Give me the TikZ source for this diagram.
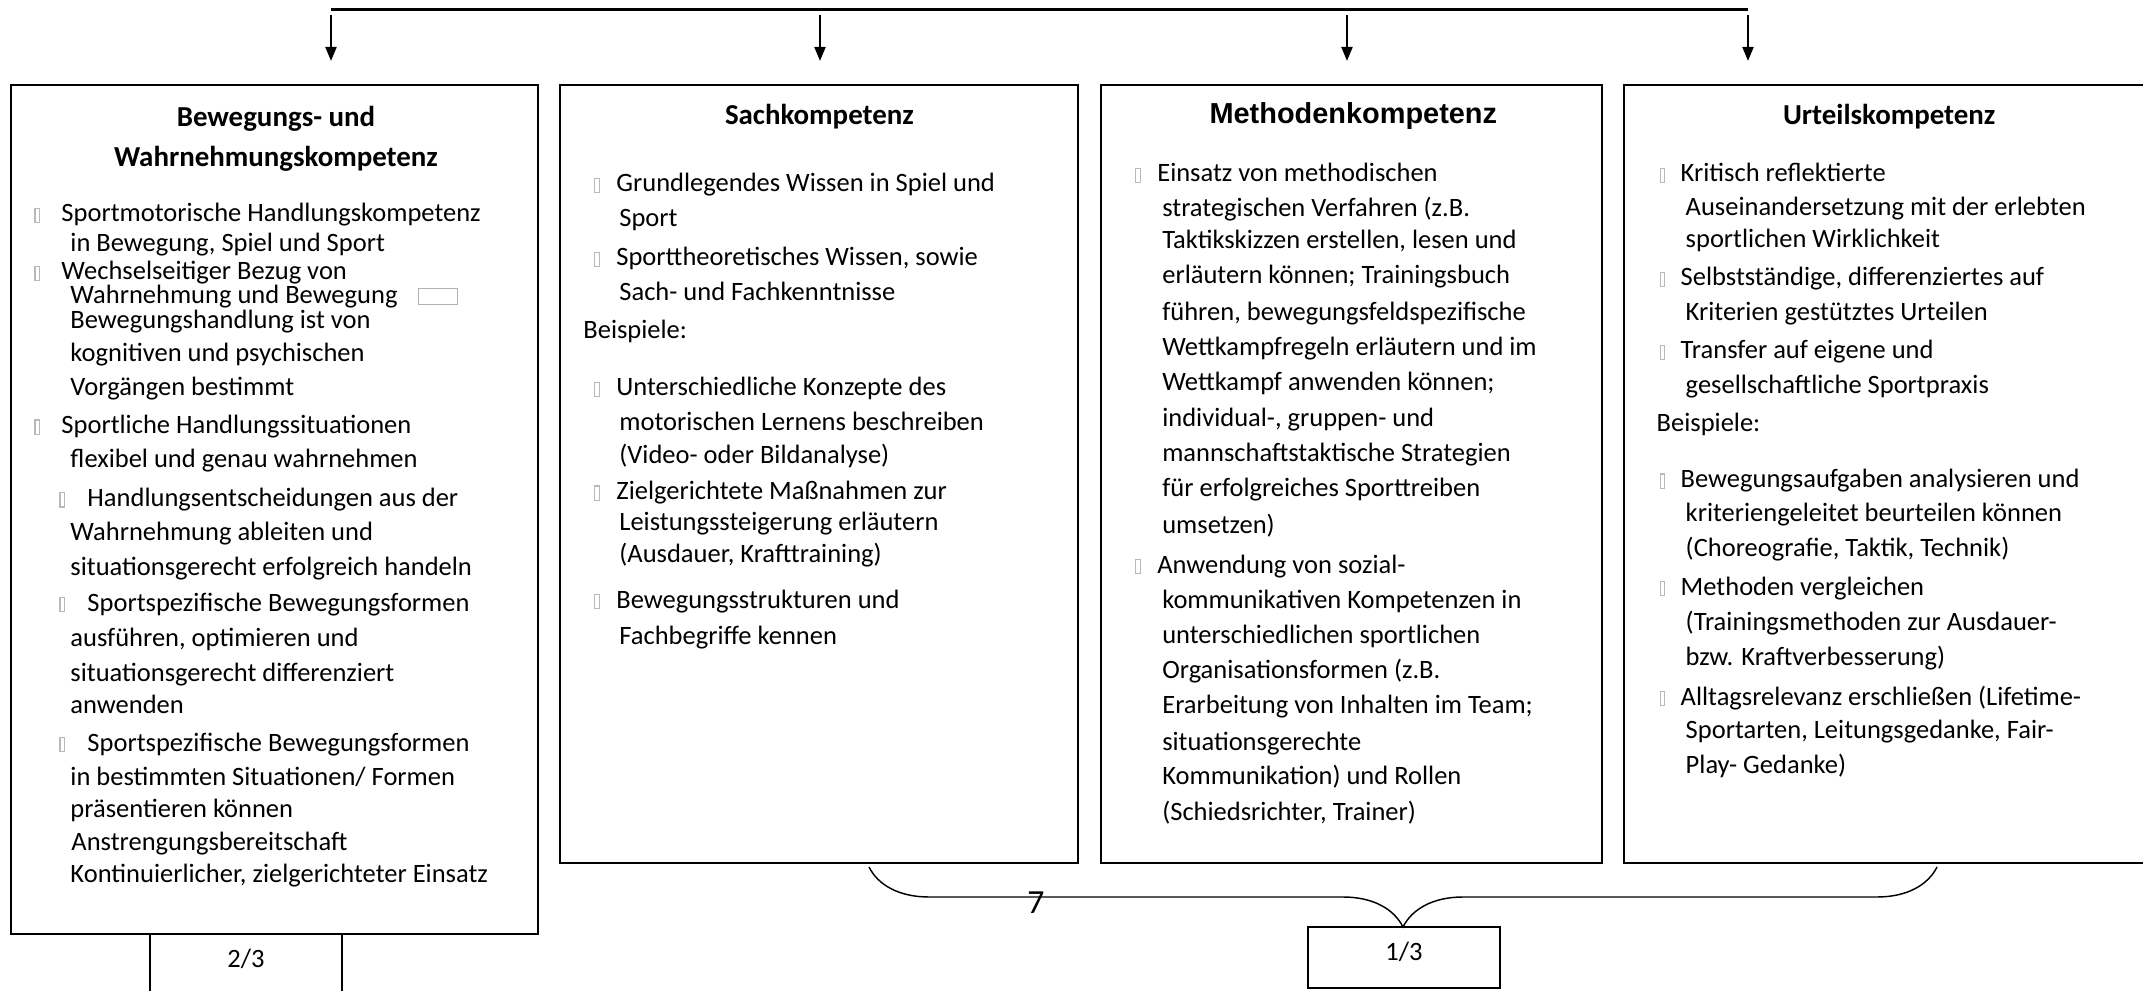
\documentclass[tikz,border=0pt]{standalone}
\usepackage{fontspec}
\setmainfont{Carlito}
\newfontfamily\arialfont{Liberation Sans}
\usetikzlibrary{arrows.meta,positioning,decorations.pathreplacing}

\newlength\px
\setlength\px{0.415pt}
\newcommand\blt{{\color{gray!55}\setlength\fboxsep{0pt}\setlength\fboxrule{0.45pt}\fbox{\rule{0pt}{13\px}\hspace{3.5\px}}}}
\newcommand\smbox{{\color{gray!60}\setlength\fboxsep{0pt}\setlength\fboxrule{0.5pt}\fbox{\rule{0pt}{15\px}\hspace{38\px}}}}
\newcommand\itm[1]{\makebox[#1\px][l]{\blt}}
\newcommand\ind[1]{\hspace*{#1\px}}
\newcommand\zeile[1]{\rule{0pt}{#1\px}}

\begin{document}
\begin{tikzpicture}[
  x=0.415pt, y=-0.415pt,
  node distance=9.3pt,
  box/.style={draw, line width=0.8pt, anchor=north west, inner sep=0pt, outer sep=0pt, minimum height=778\px},
  head/.style={font=\fontsize{12}{16.6}\selectfont\bfseries, align=center, anchor=base, inner sep=0pt},
  body/.style={font=\fontsize{11}{14.5}\selectfont, align=left, anchor=north west, inner sep=0pt},
  frac/.style={draw, line width=0.6pt, minimum width=192\px, minimum height=61\px, outer sep=0pt,
    text height=17\px, text depth=12\px, inner sep=0pt, font=\fontsize{11}{13}\selectfont},
  arr/.style={-{Triangle[length=5.8pt, width=4.6pt]}, line width=0.8pt}
]
\useasboundingbox (0,0) rectangle (2143,991);
\clip (0,0) rectangle (2143,991);

\node[box, minimum width=527\px, minimum height=849\px] (bew) at (11,85) {};
\node[box, minimum width=518\px, right=of bew.north east, anchor=north west] (sach) {};
\node[box, minimum width=501\px, right=of sach.north east, anchor=north west] (meth) {};
\node[box, minimum width=530\px, right=of meth.north east, anchor=north west] (urteil) {};

\node[head, anchor=north] (bewkopf) at ([shift={(1.5,15.5)}]bew.north) {\zeile{26}Bewegungs- und\\Wahrnehmungskompetenz};
\node[head] (sachkopf) at ([shift={(0,39.5)}]sach.north) {Sachkompetenz};
\node[head] (methkopf) at ([shift={(2,38.5)}]meth.north) {\arialfont\bfseries Methodenkompetenz};
\node[head] (urteilkopf) at ([shift={(0,39.5)}]urteil.north) {Urteilskompetenz};

\node[body] (bewtxt) at ([shift={(23,114.5)}]bew.north west) {%
  \zeile{22}\itm{27}Sportmotorische Handlungskompetenz\\[-5\px]
  \ind{36}in Bewegung, Spiel und Sport\\[-7\px]
  \itm{27}Wechselseitiger Bezug von\\[-11\px]
  \ind{36}Wahrnehmung und Bewegung\hspace{20\px}\smbox\\[-10\px]
  \ind{36}Bewegungshandlung ist von\\[-2\px]
  \ind{36}kognitiven und psychischen\\[-1\px]
  \ind{36}Vorgängen bestimmt\\[3\px]
  \itm{27}Sportliche Handlungssituationen\\[-1\px]
  \ind{36}flexibel und genau wahrnehmen\\[4\px]
  \ind{25}\itm{28}Handlungsentscheidungen aus der\\[-1\px]
  \ind{36}Wahrnehmung ableiten und\\
  \ind{36}situationsgerecht erfolgreich handeln\\[1\px]
  \ind{25}\itm{28}Sportspezifische Bewegungsformen\\
  \ind{36}ausführen, optimieren und\\
  \ind{36}situationsgerecht differenziert\\[-3\px]
  \ind{36}anwenden\\[3\px]
  \ind{25}\itm{28}Sportspezifische Bewegungsformen\\
  \ind{36}in bestimmten Situationen/ Formen\\[-3\px]
  \ind{36}präsentieren können\\[-2\px]
  \ind{37}Anstrengungsbereitschaft\\[-3\px]
  \ind{36}Kontinuierlicher, zielgerichteter Einsatz};

\node[body] (sachtxt) at ([shift={(22.5,84.5)}]sach.north west) {%
  \zeile{22}\ind{11}\itm{22}Grundlegendes Wissen in Spiel und\\
  \ind{36}Sport\\[4\px]
  \ind{11}\itm{22}Sporttheoretisches Wissen, sowie\\
  \ind{36}Sach- und Fachkenntnisse\\[3\px]
  Beispiele:\\[22\px]
  \ind{11}\itm{22}Unterschiedliche Konzepte des\\
  \ind{36}motorischen Lernens beschreiben\\[-2\px]
  \ind{36}(Video- oder Bildanalyse)\\[1\px]
  \ind{11}\itm{22}Zielgerichtete Maßnahmen zur\\[-4\px]
  \ind{36}Leistungssteigerung erläutern\\[-3\px]
  \ind{36}(Ausdauer, Krafttraining)\\[11\px]
  \ind{11}\itm{22}Bewegungsstrukturen und\\[1\px]
  \ind{36}Fachbegriffe kennen};

\node[body] (methtxt) at ([shift={(34,74.5)}]meth.north west) {%
  \zeile{22}\itm{22}Einsatz von methodischen\\
  \ind{27}strategischen Verfahren (z.B.\\[-3\px]
  \ind{27}Taktikskizzen erstellen, lesen und\\
  \ind{27}erläutern können; Trainingsbuch\\[2\px]
  \ind{27}führen, bewegungsfeldspezifische\\
  \ind{27}Wettkampfregeln erläutern und im\\
  \ind{27}Wettkampf anwenden können;\\[1\px]
  \ind{27}individual-, gruppen- und\\
  \ind{27}mannschaftstaktische Strategien\\
  \ind{27}für erfolgreiches Sporttreiben\\[2\px]
  \ind{27}umsetzen)\\[5\px]
  \itm{22}Anwendung von sozial-\\
  \ind{27}kommunikativen Kompetenzen in\\
  \ind{27}unterschiedlichen sportlichen\\
  \ind{27}Organisationsformen (z.B.\\
  \ind{27}Erarbeitung von Inhalten im Team;\\[2\px]
  \ind{27}situationsgerechte\\
  \ind{27}Kommunikation) und Rollen\\[1\px]
  \ind{27}(Schiedsrichter, Trainer)};

\node[body] (urteiltxt) at ([shift={(32,74.5)}]urteil.north west) {%
  \zeile{22}\ind{3}\itm{21}Kritisch reflektierte\\[-1\px]
  \ind{29}Auseinandersetzung mit der erlebten\\[-3\px]
  \ind{29}sportlichen Wirklichkeit\\[3\px]
  \ind{3}\itm{21}Selbstständige, differenziertes auf\\
  \ind{29}Kriterien gestütztes Urteilen\\[3\px]
  \ind{3}\itm{21}Transfer auf eigene und\\
  \ind{29}gesellschaftliche Sportpraxis\\[3\px]
  Beispiele:\\[21\px]
  \ind{3}\itm{21}Bewegungsaufgaben analysieren und\\[-1\px]
  \ind{29}kriteriengeleitet beurteilen können\\
  \ind{29}(Choreografie, Taktik, Technik)\\[4\px]
  \ind{3}\itm{21}Methoden vergleichen\\
  \ind{29}(Trainingsmethoden zur Ausdauer-\\
  \ind{29}bzw. Kraftverbesserung)\\[5\px]
  \ind{3}\itm{21}Alltagsrelevanz erschließen (Lifetime-\\[-2\px]
  \ind{29}Sportarten, Leitungsgedanke, Fair-\\
  \ind{29}Play- Gedanke)};

\coordinate (a1) at (331,9.5);
\coordinate (a2) at (820,9.5);
\coordinate (a3) at (1347,9.5);
\coordinate (a4) at (1748,9.5);
\draw[line width=0.95pt] (a1) -- (a4);
\draw[arr, shorten <=2.3pt, shorten >=10pt] (a1) -- (a1 |- bew.north);
\draw[arr, shorten <=2.3pt, shorten >=10pt] (a2) -- (a2 |- sach.north);
\draw[arr, shorten <=2.3pt, shorten >=10pt] (a3) -- (a3 |- meth.north);
\draw[arr, shorten <=2.3pt, shorten >=10pt] (a4) -- (a4 |- urteil.north);

\node[frac, anchor=north] (zweidrittel) at ([shift={(-28.5,0)}]bew.south) {2/3};

\coordinate (brl) at (869,867);
\coordinate (brr) at (1937,867);
\draw[line width=0.6pt, decorate, decoration={brace, mirror, amplitude=24.9pt}] (brl) -- (brr);
\node[frac] (eindrittel) at (1404,957.5) {1/3};
\node[font=\fontsize{14}{16}\selectfont, anchor=base, inner sep=0pt] (sieben) at (1036,913.5) {7};
\end{tikzpicture}
\end{document}
